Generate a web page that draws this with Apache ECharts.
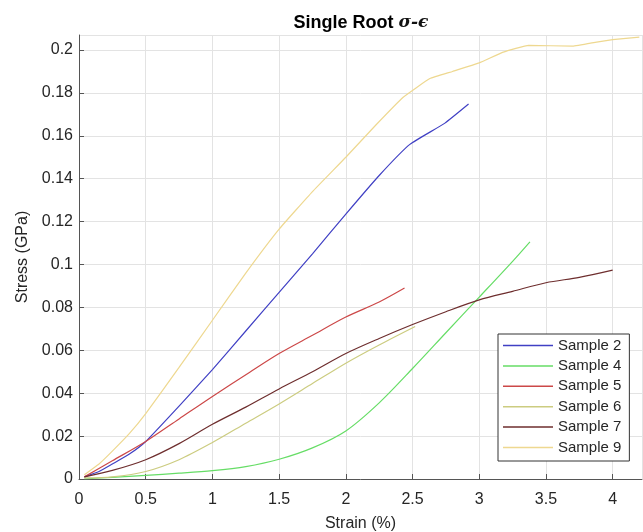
<!DOCTYPE html>
<html>
<head>
<meta charset="utf-8">
<script src="https://cdn.jsdelivr.net/npm/echarts@6/dist/echarts.min.js"></script>
<style>html,body{margin:0;padding:0;background:#fff}#c{width:643px;height:532px}</style>
</head>
<body>
<div id="c"></div>
<script>
const seriesNames = ['Sample 2','Sample 4','Sample 5','Sample 6','Sample 7','Sample 9'];
const s2x = [0.04,0.15,0.25,0.375,0.5,0.75,1.0,1.25,1.5,1.75,2.0,2.25,2.48,2.74,2.92];
const s2y = [0.001,0.0035,0.007,0.0115,0.0175,0.034,0.051,0.069,0.087,0.105,0.1235,0.1415,0.156,0.1658,0.1748];
const s4x = [0.04,0.25,0.5,0.75,1.0,1.25,1.5,1.75,2.0,2.25,2.5,2.75,3.0,3.25,3.38];
const s4y = [0.0,0.0008,0.0017,0.0027,0.0039,0.0058,0.0092,0.0145,0.0224,0.0355,0.0515,0.0682,0.0848,0.1015,0.1106];
const s5x = [0.04,0.25,0.5,0.75,1.0,1.28,1.5,1.75,2.0,2.25,2.44];
const s5y = [0.001,0.0085,0.0175,0.028,0.0385,0.0498,0.0585,0.067,0.0755,0.0825,0.089];
const s6x = [0.04,0.25,0.5,0.75,1.0,1.25,1.5,1.75,2.0,2.25,2.52];
const s6y = [0.0005,0.001,0.0035,0.009,0.017,0.026,0.035,0.0445,0.054,0.0625,0.0711];
const s7x = [0.04,0.25,0.5,0.75,1.0,1.25,1.5,1.75,2.0,2.25,2.5,2.75,3.0,3.25,3.5,3.75,4.0];
const s7y = [0.001,0.004,0.009,0.0165,0.0255,0.0335,0.042,0.05,0.0585,0.0655,0.072,0.078,0.0835,0.0875,0.0915,0.094,0.0974];
const s9x = [0.04,0.15,0.25,0.375,0.5,0.75,1.0,1.25,1.5,1.75,2.0,2.22,2.43,2.63,2.8,3.0,3.18,3.37,3.7,3.88,4.0,4.2];
const s9y = [0.002,0.007,0.013,0.021,0.0305,0.052,0.074,0.096,0.1165,0.134,0.15,0.1647,0.178,0.1867,0.19,0.194,0.199,0.2022,0.2018,0.2037,0.2048,0.206];
const xTickLabels = ['0','0.5','1','1.5','2','2.5','3','3.5','4'];
const yTickLabels = ['0','0.02','0.04','0.06','0.08','0.1','0.12','0.14','0.16','0.18','0.2'];

const colors = ['#4040C4','#66DD66','#CC4848','#CCCC80','#6E2E2E','#EED890'];
const smoothing = [0.15, 0.3, 0.3, 0.3, 0.3, 0.1];
const xs = [s2x,s4x,s5x,s6x,s7x,s9x];
const ys = [s2y,s4y,s5y,s6y,s7y,s9y];

const chart = echarts.init(document.getElementById('c'));
const font = 'Arial, "Liberation Sans", Helvetica, sans-serif';
chart.setOption({
  animation: false,
  backgroundColor: '#fff',
  title: {
    text: '{b|Single Root }{s|σ-ϵ}',
    left: 356,
    textAlign: 'center',
    top: 9,
    textStyle: {
      rich: {
        b: {fontFamily: font, fontWeight: 'bold', fontSize: 18, color: '#000'},
        s: {fontFamily: '"DejaVu Serif", "Liberation Serif", serif', fontStyle: 'italic', fontSize: 17, color: '#111'}
      }
    }
  },
  grid: {left: 79, right: 1, top: 35, bottom: 53, containLabel: false, outerBoundsMode: 'none'},
  legend: {
    orient: 'vertical',
    left: 498,
    top: 334,
    data: seriesNames,
    icon: 'rect',
    backgroundColor: '#fff',
    borderColor: '#333',
    borderWidth: 1,
    borderRadius: 0,
    padding: [4, 8, 6, 5],
    itemWidth: 50,
    itemHeight: 1.5,
    itemGap: 5.4,
    textStyle: {fontFamily: font, fontSize: 15, color: '#262626', lineHeight: 15}
  },
  xAxis: {
    type: 'value',
    min: 0, max: 4.22, interval: 0.5,
    name: 'Strain (%)',
    nameLocation: 'middle',
    nameGap: 37,
    nameTextStyle: {fontFamily: font, fontSize: 16, color: '#262626'},
    axisLine: {onZero: false, lineStyle: {color: '#555', width: 1}},
    axisTick: {inside: true, length: 5, lineStyle: {color: '#555'}},
    axisLabel: {
      fontFamily: font, fontSize: 16, color: '#262626', margin: 13,
      showMaxLabel: false,
      formatter: v => xTickLabels[Math.round(v / 0.5)] ?? ''
    },
    splitLine: {show: true, lineStyle: {color: '#e3e3e3', width: 1}}
  },
  yAxis: {
    type: 'value',
    min: 0, max: 0.207, interval: 0.02,
    name: 'Stress (GPa)',
    nameLocation: 'middle',
    nameGap: 42,
    nameTextStyle: {fontFamily: font, fontSize: 16, color: '#262626'},
    axisLine: {show: true, onZero: false, lineStyle: {color: '#555', width: 1}},
    axisTick: {show: true, inside: true, length: 5, lineStyle: {color: '#555'}},
    axisLabel: {
      fontFamily: font, fontSize: 16, color: '#262626', margin: 6,
      showMaxLabel: false,
      formatter: v => yTickLabels[Math.round(v / 0.02)] ?? ''
    },
    splitLine: {show: true, lineStyle: {color: '#e3e3e3', width: 1}}
  },
  series: seriesNames.map((n, i) => ({
    name: n,
    type: 'line',
    showSymbol: false,
    symbol: 'none',
    smooth: smoothing[i],
    color: colors[i],
    lineStyle: {width: 1.2, color: colors[i]},
    data: xs[i].map((x, j) => [x, ys[i][j]])
  }))
});
</script>
</body>
</html>
